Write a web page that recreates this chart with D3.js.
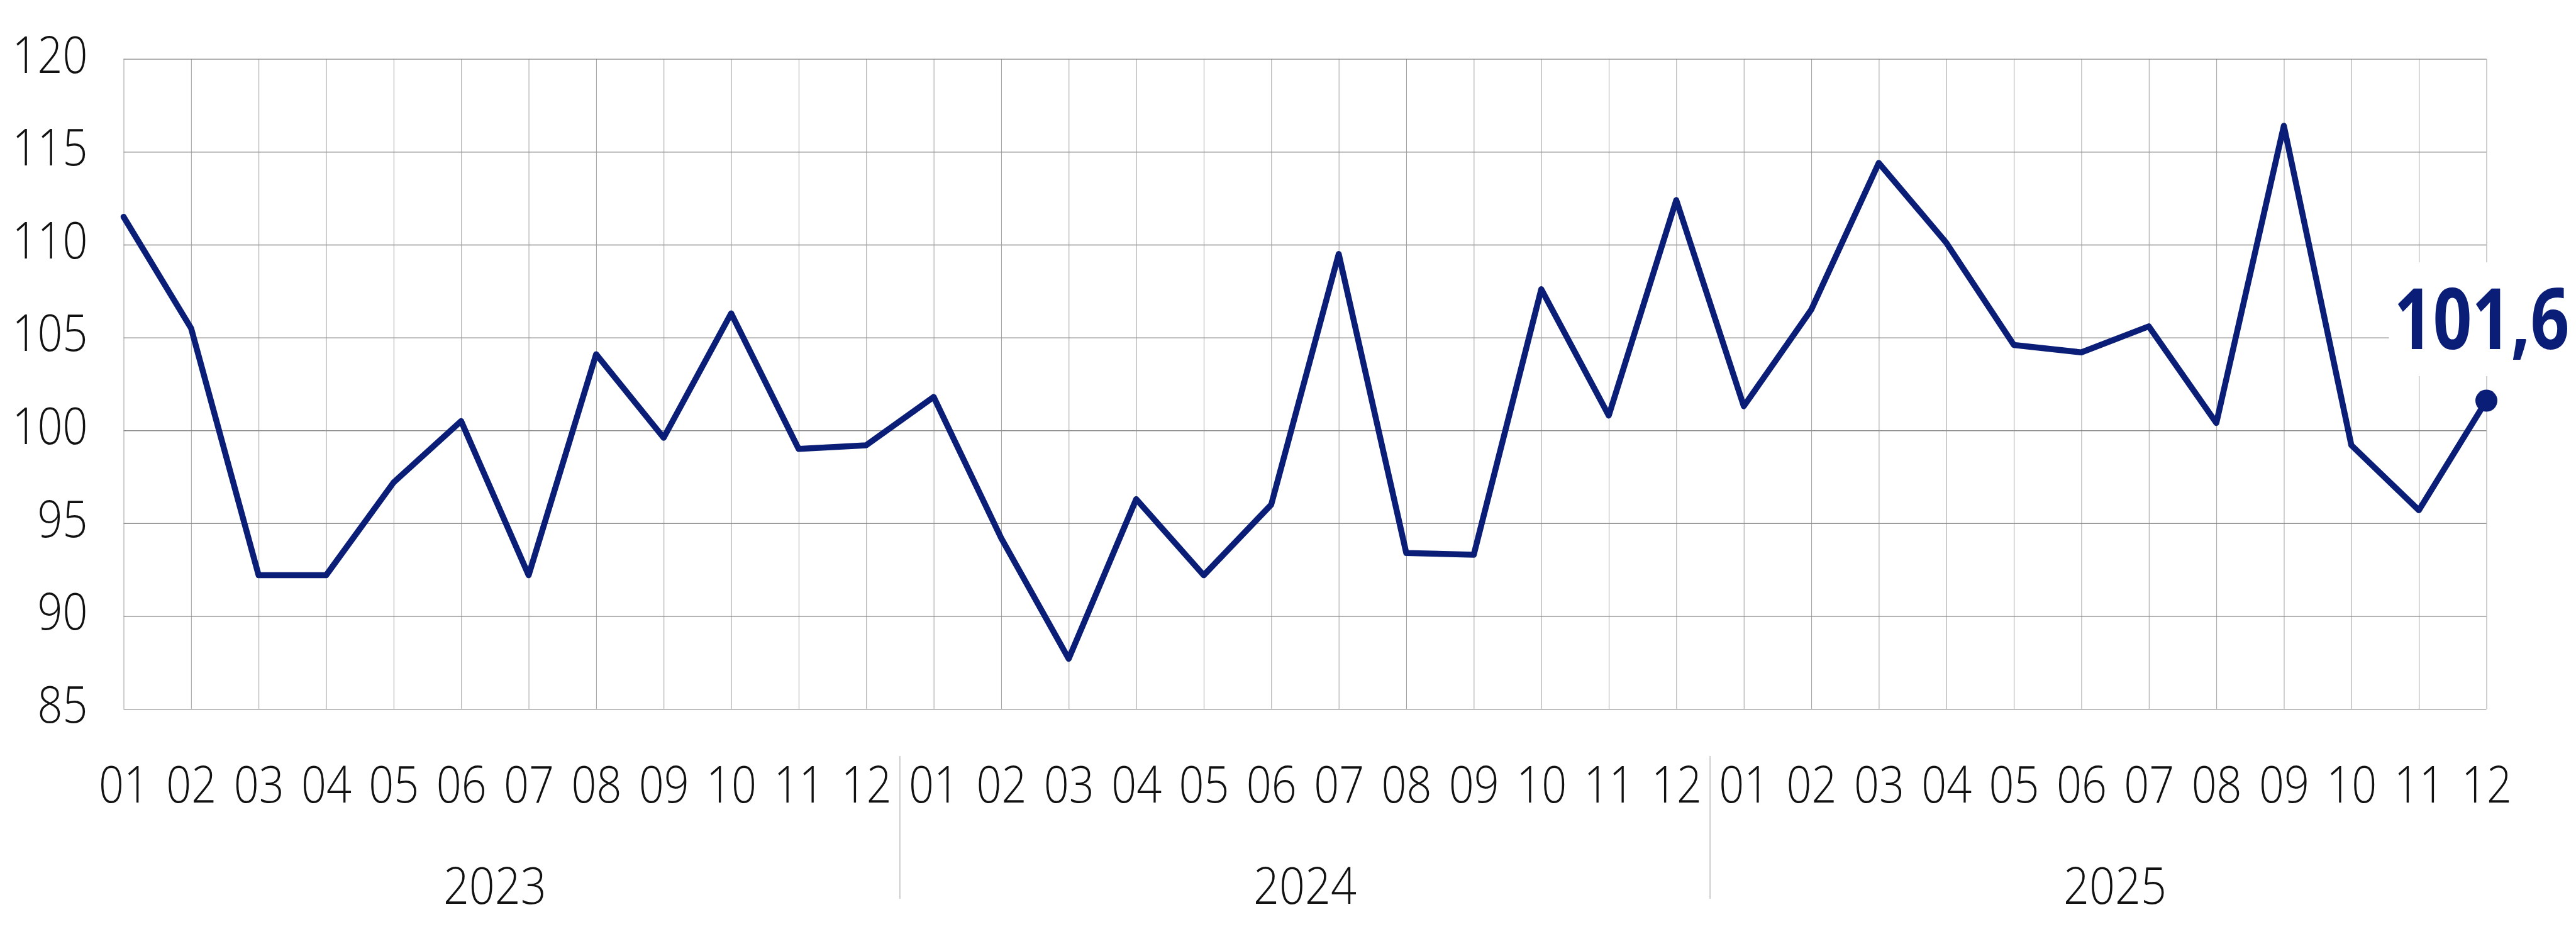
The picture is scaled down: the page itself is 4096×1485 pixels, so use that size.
<!DOCTYPE html>
<html>
<head>
<meta charset="utf-8">
<script src="https://cdn.jsdelivr.net/npm/d3@7"></script>
<style>
  html, body { margin: 0; padding: 0; background: #ffffff; }
  svg { display: block; }
  .tickText { font-family: "Open Sans", "Noto Sans", sans-serif; font-weight: 300; fill: #111111; }
</style>
</head>
<body>
<div id="chart"></div>
<script>
(function () {
    "use strict";

// data
var months = ["01", "02", "03", "04", "05", "06", "07", "08", "09", "10", "11", "12"],
    years = ["2023", "2024", "2025"];

var values2023 = [111.5, 105.5, 92.2, 92.2, 97.2, 100.5, 92.2, 104.1, 99.6, 106.3, 99.0, 99.2],
    values2024 = [101.8, 94.2, 87.7, 96.3, 92.2, 96.0, 109.5, 93.4, 93.3, 107.6, 100.8, 112.4],
    values2025 = [101.3, 106.5, 114.4, 110.1, 104.6, 104.2, 105.6, 100.4, 116.4, 99.2, 95.7, 101.6];

var yTicks = [85, 90, 95, 100, 105, 110, 115, 120];

var lastLabel = "101,6";

// sizes
var width = 4096,
    height = 1485,
    left = 196.5,
    right = 3953.5,
    top = 93.7,
    bottom = 1127.2,
    fontSize = 82,
    charW = 40,   // the source font is narrower than Open Sans
    navy = "#0a1e78";

var values = values2023.concat(values2024, values2025);

var x = d3.scaleLinear()
    .domain([0, values.length - 1])
    .range([left, right]);

var y = d3.scaleLinear()
    .domain([85, 120])
    .range([bottom, top]);

var svg = d3.select("#chart").append("svg")
    .attr("width", width)
    .attr("height", height);

// vertical grid + month labels
var xAxis = d3.axisBottom(x)
    .tickValues(d3.range(values.length))
    .tickFormat(function (i) { return months[i % 12]; })
    .tickSize(-(bottom - top))
    .tickPadding(91);

var gx = svg.append("g")
    .attr("transform", "translate(0," + bottom + ")")
    .call(xAxis);

gx.select(".domain").remove();
gx.selectAll(".tick line")
    .attr("stroke", "#a0a0a0")
    .attr("stroke-width", 1);
gx.selectAll(".tick text")
    .attr("class", "tickText")
    .style("font-size", fontSize + "px")
    .attr("textLength", function () { return this.textContent.length * charW; })
    .attr("lengthAdjust", "spacingAndGlyphs");

// horizontal grid + value labels
var yAxis = d3.axisLeft(y)
    .tickValues(yTicks)
    .tickFormat(d3.format("d"))
    .tickSize(-(right - left))
    .tickPadding(57);

var gy = svg.append("g")
    .attr("transform", "translate(" + left + ",0)")
    .call(yAxis);

gy.select(".domain").remove();
gy.selectAll(".tick line")
    .attr("stroke", "#8f8f8f")
    .attr("stroke-width", 1.3);
gy.selectAll(".tick text")
    .attr("class", "tickText")
    .attr("dy", "0.26em")
    .style("font-size", fontSize + "px")
    .attr("textLength", function () { return this.textContent.length * charW; })
    .attr("lengthAdjust", "spacingAndGlyphs");

// year labels and separators
svg.append("g").selectAll("text")
    .data(years)
    .enter().append("text")
    .attr("class", "tickText")
    .attr("x", function (d, i) { return x(i * 12 + 5.5); })
    .attr("y", 1437)
    .attr("text-anchor", "middle")
    .style("font-size", fontSize + "px")
    .attr("textLength", function (d) { return d.length * 41; })
    .attr("lengthAdjust", "spacingAndGlyphs")
    .text(function (d) { return d; });

svg.append("g").selectAll("line")
    .data(years.slice(1))
    .enter().append("line")
    .attr("x1", function (d, i) { return x((i + 1) * 12 - 0.5); })
    .attr("x2", function (d, i) { return x((i + 1) * 12 - 0.5); })
    .attr("y1", 1202)
    .attr("y2", 1429)
    .attr("stroke", "#a0a0a0")
    .attr("stroke-width", 1);

// white box behind last value label
var lastX = x(values.length - 1),
    lastY = y(values[values.length - 1]);

svg.append("rect")
    .attr("x", lastX - 155)
    .attr("y", lastY - 220)
    .attr("width", width - (lastX - 155))
    .attr("height", 181)
    .attr("fill", "#ffffff");

// the line
var line = d3.line()
    .x(function (d, i) { return x(i); })
    .y(function (d) { return y(d); });

svg.append("path")
    .datum(values)
    .attr("fill", "none")
    .attr("stroke", navy)
    .attr("stroke-width", 9.5)
    .attr("stroke-linejoin", "round")
    .attr("stroke-linecap", "round")
    .attr("d", line);

svg.append("circle")
    .attr("cx", lastX)
    .attr("cy", lastY)
    .attr("r", 17.5)
    .attr("fill", navy);

svg.append("text")
    .attr("x", lastX - 147)
    .attr("y", lastY - 82)
    .attr("fill", navy)
    .style("font-family", "'Open Sans', 'Noto Sans', sans-serif")
    .style("font-weight", 700)
    .style("font-size", "135px")
    .attr("textLength", 279)
    .attr("lengthAdjust", "spacingAndGlyphs")
    .text(lastLabel);

})();
</script>
</body>
</html>
